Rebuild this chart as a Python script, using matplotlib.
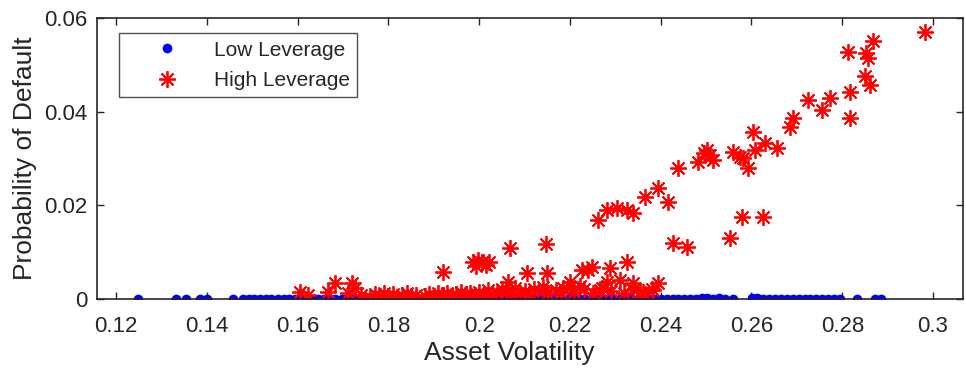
import matplotlib.pyplot as plt

plt.rcParams['font.family'] = ['Liberation Sans', 'DejaVu Sans']

# Low leverage firms: default probability stays at ~0
blue_x = [0.1248, 0.1332, 0.1354, 0.1385, 0.1400, 0.1458, 0.1480, 0.1492, 0.1505, 0.1518,
          0.1530, 0.1541, 0.1556, 0.1569, 0.1580, 0.1594, 0.1607, 0.1619, 0.1633, 0.1645,
          0.1658, 0.1671, 0.1683, 0.1697, 0.1709, 0.1722, 0.1735, 0.1748, 0.1760, 0.1773,
          0.1787, 0.1799, 0.1812, 0.1825, 0.1838, 0.1851, 0.1863, 0.1876, 0.1889, 0.1902,
          0.1915, 0.1927, 0.1940, 0.1953, 0.1966, 0.1979, 0.1991, 0.2004, 0.2017, 0.2030,
          0.2042, 0.2055, 0.2068, 0.2081, 0.2094, 0.2106, 0.2119, 0.2132, 0.2145, 0.2158,
          0.2170, 0.2183, 0.2196, 0.2209, 0.2222, 0.2234, 0.2247, 0.2260, 0.2273, 0.2286,
          0.2298, 0.2311, 0.2324, 0.2337, 0.2350, 0.2362, 0.2375, 0.2388, 0.2401, 0.2414,
          0.2426, 0.2439, 0.2452, 0.2465, 0.2478, 0.2490, 0.2503, 0.2516, 0.2529, 0.2542,
          0.2559, 0.2601, 0.2613, 0.2626, 0.2639, 0.2652, 0.2665, 0.2678, 0.2691, 0.2704,
          0.2717, 0.2730, 0.2743, 0.2756, 0.2769, 0.2782, 0.2795, 0.2832, 0.2872, 0.2886]
blue_y = [0.0, 0.0, 0.0, 0.0, 0.0, 0.0, 0.0, 0.0, 0.0, 0.0,
          0.0, 0.0, 0.0, 0.0, 0.0, 0.0, 0.0, 0.0, 0.0, 0.0,
          0.0, 0.0, 0.0, 0.0, 0.0, 0.0, 0.0, 0.0, 0.0, 0.0,
          0.0, 0.0, 0.0, 0.0, 0.0, 0.0, 0.0, 0.0, 0.0, 0.0,
          0.0, 0.0, 0.0, 0.0, 0.0, 0.0, 0.0, 0.0, 0.0, 0.0,
          0.0, 0.0, 0.0, 0.0, 0.0, 0.0, 0.0, 0.0, 0.0, 0.0,
          0.0, 0.0, 0.0, 0.0, 0.0, 0.0, 0.0, 0.0, 0.0, 0.0,
          0.0, 0.0, 0.0, 0.0, 0.0, 0.0, 0.0, 0.0, 0.0, 0.0,
          0.0, 0.0, 0.0, 0.0, 0.0, 0.0001, 0.0001, 0.0, 0.0001, 0.0,
          0.0, 0.0002, 0.0001, 0.0, 0.0, 0.0, 0.0, 0.0, 0.0, 0.0,
          0.0, 0.0, 0.0, 0.0, 0.0, 0.0, 0.0, 0.0, 0.0, 0.0]

# High leverage firms
red_x = [0.2982, 0.2812, 0.2867, 0.2852, 0.2856, 0.2850, 0.2861, 0.2817, 0.2817, 0.2773,
         0.2755, 0.2724, 0.2691, 0.2685, 0.2603, 0.2630, 0.2656, 0.2607, 0.2559, 0.2574,
         0.2592, 0.2581, 0.2508, 0.2515, 0.2482, 0.2502, 0.2495, 0.2438, 0.2394, 0.2365,
         0.2416, 0.2339, 0.2326, 0.2304, 0.2281, 0.2262, 0.2579, 0.2625, 0.2552, 0.2427,
         0.2458, 0.2068, 0.2147, 0.1986, 0.1997, 0.2006, 0.2015, 0.1993, 0.2022, 0.2326,
         0.2248, 0.2288, 0.2240, 0.2226, 0.2105, 0.2149, 0.1920, 0.2394, 0.2339, 0.2281,
         0.2200, 0.2185, 0.2141, 0.2063, 0.2310, 0.2354, 0.2383, 0.2266, 0.2222, 0.1605,
         0.1623, 0.1682, 0.1720, 0.1667, 0.1726, 0.1711, 0.1740, 0.1760, 0.1770, 0.1780,
         0.1790, 0.1800, 0.1810, 0.1820, 0.1830, 0.1840, 0.1850, 0.1860, 0.1880, 0.1890,
         0.1900, 0.1910, 0.1920, 0.1930, 0.1940, 0.1950, 0.1960, 0.1970, 0.1980, 0.1990,
         0.2000, 0.2010, 0.2020, 0.2030, 0.2040, 0.2050, 0.2060, 0.2070, 0.2080, 0.2090,
         0.2100, 0.2110, 0.2120, 0.2140, 0.2150, 0.2170, 0.2180, 0.2200, 0.2210, 0.2230,
         0.2250, 0.2270, 0.2290, 0.2320, 0.2340, 0.2360, 0.2380]
red_y = [0.0571, 0.0528, 0.0550, 0.0526, 0.0515, 0.0477, 0.0457, 0.0442, 0.0387, 0.0430,
         0.0404, 0.0425, 0.0387, 0.0367, 0.0357, 0.0333, 0.0322, 0.0318, 0.0314, 0.0303,
         0.0280, 0.0301, 0.0307, 0.0297, 0.0292, 0.0318, 0.0312, 0.0280, 0.0237, 0.0217,
         0.0207, 0.0183, 0.0190, 0.0194, 0.0190, 0.0168, 0.0175, 0.0175, 0.0129, 0.0119,
         0.0110, 0.0108, 0.0117, 0.0078, 0.0082, 0.0078, 0.0072, 0.0070, 0.0078, 0.0078,
         0.0067, 0.0065, 0.0061, 0.0061, 0.0055, 0.0055, 0.0057, 0.0033, 0.0033, 0.0035,
         0.0035, 0.0022, 0.0025, 0.0035, 0.0040, 0.0014, 0.0018, 0.0018, 0.0027, 0.0014,
         0.0008, 0.0033, 0.0033, 0.0014, 0.0022, 0.0012, 0.0008, 0.0004, 0.0010, 0.0006,
         0.0012, 0.0005, 0.0009, 0.0004, 0.0007, 0.0011, 0.0005, 0.0008, 0.0006, 0.0010,
         0.0004, 0.0012, 0.0008, 0.0013, 0.0006, 0.0010, 0.0015, 0.0009, 0.0012, 0.0006,
         0.0014, 0.0010, 0.0018, 0.0008, 0.0012, 0.0020, 0.0015, 0.0009, 0.0022, 0.0013,
         0.0017, 0.0010, 0.0021, 0.0016, 0.0012, 0.0019, 0.0011, 0.0024, 0.0015, 0.0020,
         0.0013, 0.0022, 0.0016, 0.0012, 0.0019, 0.0015, 0.0020]

x_ticks = [0.12, 0.14, 0.16, 0.18, 0.2, 0.22, 0.24, 0.26, 0.28, 0.3]
x_tick_labels = ['0.12', '0.14', '0.16', '0.18', '0.2', '0.22', '0.24', '0.26', '0.28', '0.3']
y_ticks = [0, 0.02, 0.04, 0.06]
y_tick_labels = ['0', '0.02', '0.04', '0.06']

dark = '#262626'

fig = plt.figure(figsize=(9.66, 3.77), dpi=100)
ax = fig.add_axes([0.1004, 0.208, 0.8965, 0.744])

# red drawn after blue so it sits on top
ax.plot(blue_x, blue_y, linestyle='none', marker='o', markersize=7,
        markerfacecolor='#0000ff', markeredgewidth=0, label='Low Leverage')
ax.plot(red_x, red_y, linestyle='none', marker=(8, 2, 0), markersize=12,
        markeredgecolor='#ff0000', markeredgewidth=1.3, label='High Leverage')

ax.set_xlim(0.1158, 0.3066)
ax.set_ylim(0, 0.06)
ax.set_xticks(x_ticks)
ax.set_xticklabels(x_tick_labels)
ax.set_yticks(y_ticks)
ax.set_yticklabels(y_tick_labels)

ax.tick_params(direction='in', length=5, width=1, colors=dark, labelsize=16,
               top=True, right=True)
ax.tick_params(axis='x', pad=12.5)
ax.tick_params(axis='y', pad=7)
for s in ax.spines.values():
    s.set_color(dark)
    s.set_linewidth(1.2)

ax.set_xlabel('Asset Volatility', fontsize=19, color=dark)
ax.xaxis.set_label_coords(0.476, -0.152)
ax.set_ylabel('Probability of Default', fontsize=19, color=dark, labelpad=5)

leg = ax.legend(loc='upper left', bbox_to_anchor=(0.0254, 0.946), fontsize=15,
                frameon=True, fancybox=False, borderpad=0.35, handlelength=3.95,
                handletextpad=0.25, labelspacing=0.55, borderaxespad=0)
leg.get_frame().set_edgecolor(dark)
leg.get_frame().set_linewidth(1.0)
for t in leg.get_texts():
    t.set_color(dark)

fig.savefig('out.png', dpi=100)
